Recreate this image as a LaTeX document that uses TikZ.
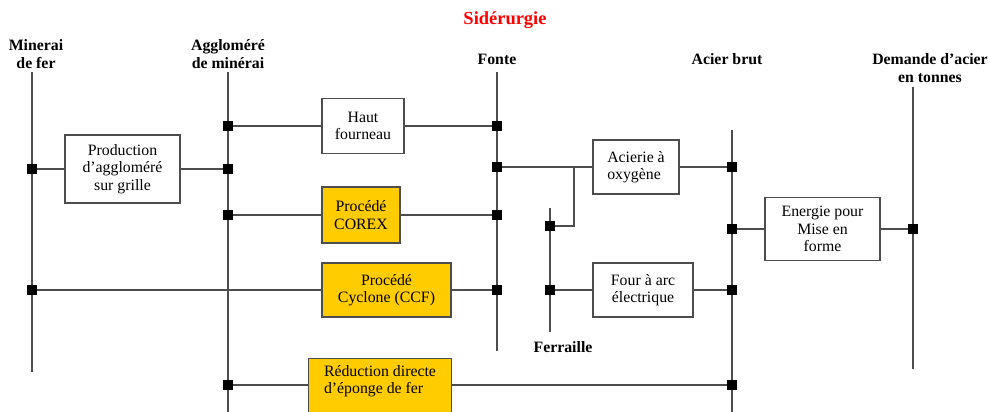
\documentclass[tikz,border=0pt]{standalone}
\usepackage{fontspec}
\setmainfont{Liberation Serif}
\usepackage{xcolor}
\usepackage{tikz}
\definecolor{procyellow}{HTML}{FFCC00}
\definecolor{linegray}{HTML}{4D4D4D}

\begin{document}
\begin{tikzpicture}[
    x=0.02cm, y=-0.02cm,
    box/.style={draw=linegray, line width=0.8pt, align=center, inner sep=1pt, font=\fontsize{9}{10}\selectfont},
    proc/.style={box, fill=procyellow},
    junc/.style={fill=black, minimum size=0.19cm, inner sep=0pt},
    head/.style={font=\fontsize{9}{10.2}\selectfont\bfseries, align=center},
    flow/.style={draw=linegray, line width=0.7pt},
]
\useasboundingbox (0,0) rectangle (988,412);

% Title
\node[font=\fontsize{10.5}{12}\selectfont\bfseries, text=red] (title) at (505,20) {Sidérurgie};

% Column heads
\node[head] (hmin) at (36,54) {Minerai\\de fer};
\node[head] (hagg) at (228,54) {Aggloméré\\de minérai};
\node[head] (hfon) at (497,59) {Fonte};
\node[head] (hbru) at (727,59) {Acier brut};
\node[head] (hdem) at (930,68) {Demande d’acier\\en tonnes};
\node[head] (hfer) at (563,347) {Ferraille};

% Column lines
\coordinate (mtop) at (32,72);   \coordinate (mbot) at (32,372);
\coordinate (atop) at (228,72);  \coordinate (abot) at (228,412);
\coordinate (ftop) at (497,72);  \coordinate (fbot) at (497,351);
\coordinate (rtop) at (550,208); \coordinate (rbot) at (550,332);
\coordinate (btop) at (732,130); \coordinate (bbot) at (732,412);
\coordinate (dtop) at (913,87);  \coordinate (dbot) at (913,369);
\draw[flow] (mtop) -- (mbot);
\draw[flow] (atop) -- (abot);
\draw[flow] (ftop) -- (fbot);
\draw[flow] (rtop) -- (rbot);
\draw[flow] (btop) -- (bbot);
\draw[flow] (dtop) -- (dbot);

% Processes
\node[box, minimum width=2.3cm, minimum height=1.36cm] (prod) at (122.5,169) {Production\\d’aggloméré\\sur grille};
\node[box, minimum width=1.64cm, minimum height=1.1cm] (haut) at (363,126) {Haut\\fourneau};
\node[proc, minimum width=1.56cm, minimum height=1.12cm] (corex) at (361,215) {Procédé\\COREX};
\node[proc, minimum width=2.58cm, minimum height=1.08cm] (ccf) at (386.5,290) {Procédé\\Cyclone (CCF)};
\node[proc, align=left, anchor=north, minimum width=2.86cm, inner ysep=0.13cm, text depth=1cm] (redu) at (380,358) {Réduction directe\\d’éponge de fer};
\node[box, align=left, minimum width=1.72cm, minimum height=1.08cm] (oxy) at (636,167) {Acierie à\\oxygène};
\node[box, minimum width=2.0cm, minimum height=1.08cm] (arc) at (643,290) {Four à arc\\électrique};
\node[box, minimum width=2.3cm, minimum height=1.26cm] (form) at (822.5,229) {Energie pour\\Mise en\\forme};

% Junctions
\node[junc] (jm1) at (32,169) {};
\node[junc] (jm2) at (32,290) {};
\node[junc] (ja1) at (228,169) {};
\node[junc] (ja2) at (228,126) {};
\node[junc] (ja3) at (228,215) {};
\node[junc] (ja4) at (228,385) {};
\node[junc] (jf1) at (497,126) {};
\node[junc] (jf2) at (497,167) {};
\node[junc] (jf3) at (497,215) {};
\node[junc] (jf4) at (497,290) {};
\node[junc] (jr1) at (550,226) {};
\node[junc] (jr2) at (550,290) {};
\node[junc] (jb1) at (732,167) {};
\node[junc] (jb2) at (732,229) {};
\node[junc] (jb3) at (732,290) {};
\node[junc] (jb4) at (732,385) {};
\node[junc] (jd1) at (913,229) {};

% Links
\draw[flow] (jm1) -- (prod);
\draw[flow] (prod) -- (ja1);
\draw[flow] (ja2) -- (haut);
\draw[flow] (haut) -- (jf1);
\draw[flow] (ja3) -- (corex);
\draw[flow] (corex) -- (jf3);
\draw[flow] (jm2) -- (ccf);
\draw[flow] (ccf) -- (jf4);
\draw[flow] (ja4) -- (redu.west |- ja4);
\draw[flow] (redu.east |- jb4) -- (jb4);
\draw[flow] (jf2) -- (oxy);
\draw[flow] (oxy) -- (jb1);
\coordinate (bend) at (574,167);
\draw[flow] (jr1) -| (bend);
\draw[flow] (jr2) -- (arc);
\draw[flow] (arc) -- (jb3);
\draw[flow] (jb2) -- (form);
\draw[flow] (form) -- (jd1);

\end{tikzpicture}
\end{document}
